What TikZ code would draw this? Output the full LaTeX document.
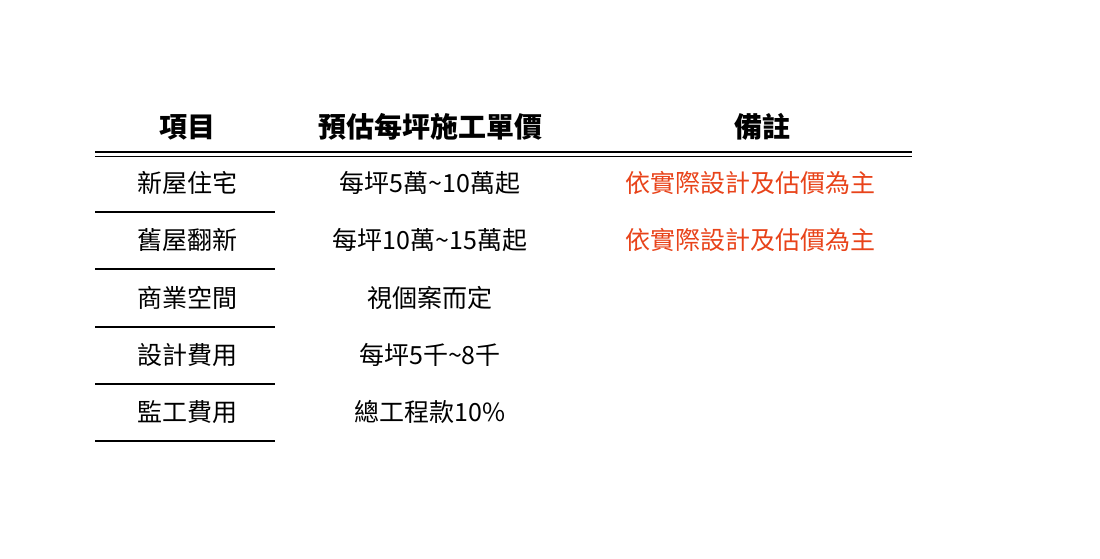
\documentclass[tikz,border=0pt]{standalone}
\usepackage{fontspec}
\newfontfamily\cjk{Noto Sans CJK TC}
\definecolor{note}{HTML}{E8431A}
\begin{document}
\begin{tikzpicture}[x=1pt,y=-1pt,
 hd/.style={font=\cjk\fontsize{28}{28}\selectfont\bfseries},
 cell/.style={font=\cjk\fontsize{25}{25}\selectfont},
 red/.style={cell,text=note},
 rule/.style={line width=1.6pt}]
\useasboundingbox (0,0) rectangle (1100,559);
\node[hd] (h1) at (187,127) {項目};
\node[hd] (h2) at (430,127) {預估每坪施工單價};
\node[hd] (h3) at (762,127) {備註};
\draw[rule] (95,152) -- (912,152);
\draw[rule] (95,156.5) -- (912,156.5);
\foreach \y/\a/\b [count=\i] in {183/新屋住宅/每坪5萬\textasciitilde10萬起,240/舊屋翻新/每坪10萬\textasciitilde15萬起,298/商業空間/視個案而定,355/設計費用/每坪5千\textasciitilde8千,412/監工費用/總工程款10\%}{
 \node[cell] (a\i) at (187,\y) {\a};
 \node[cell] (b\i) at (430,\y) {\b};
 \draw[rule] (95,\y+29) -- (275,\y+29);
}
\node[red] (c1) at (750,183) {依實際設計及估價為主};
\node[red] (c2) at (750,240) {依實際設計及估價為主};
\end{tikzpicture}
\end{document}
